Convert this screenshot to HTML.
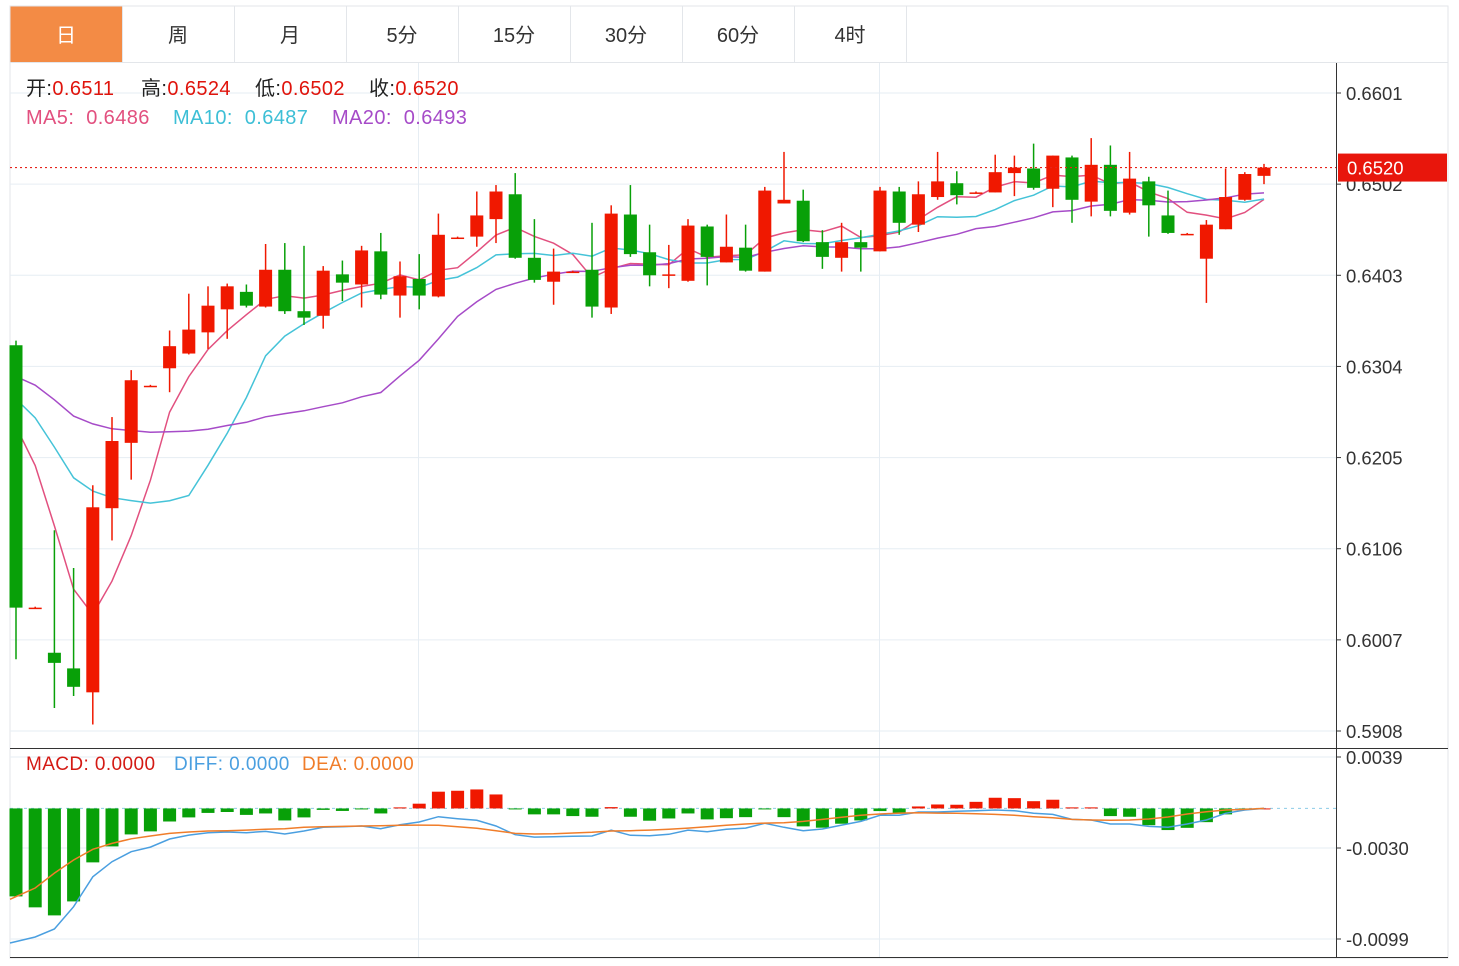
<!DOCTYPE html>
<html><head><meta charset="utf-8"><style>
body{margin:0;background:#fff;font-family:"Liberation Sans","Noto Sans CJK SC",sans-serif;}
svg text{font-family:"Liberation Sans","Noto Sans CJK SC",sans-serif;}
.lg{position:absolute;white-space:nowrap;font-size:20px;letter-spacing:0.4px;}
</style></head><body>
<svg id="chart" width="1459" height="961" viewBox="0 0 1459 961" xmlns="http://www.w3.org/2000/svg">
<rect x="0" y="0" width="1459" height="961" fill="#fff"/>
<g id="tabs"></g>
<rect x="10" y="6" width="1438" height="952" fill="none" stroke="#e3e6ea" stroke-width="1"/>
<line x1="10" y1="62.5" x2="1448" y2="62.5" stroke="#e3e6ea"/>
<g id="grid"></g>
<g id="ma"></g>
<g id="candles"></g>
<g id="macd"></g>
<g id="axis"></g>
</svg>
<script>
const opens=[.6327,.6042,.5993,.5976,.5950,.6150,.6221,.6283,.6302,.6318,.6341,.6366,.6385,.6369,.6409,.6364,.6359,.6404,.6393,.6429,.6381,.6399,.6380,.6444,.6445,.6464,.6491,.6422,.6396,.6407,.6409,.6368,.6469,.6428,.6404,.6397,.6456,.6417,.6433,.6407,.6481,.6484,.6439,.6422,.6439,.6429,.6494,.6458,.6488,.6503,.6493,.6493,.6514,.6519,.6497,.6531,.6483,.6523,.6471,.6505,.6468,.6448,.6421,.6453,.6485,.6511];
const closes=[.6042,.6042,.5982,.5956,.6151,.6223,.6289,.6283,.6326,.6344,.6370,.6391,.6370,.6409,.6364,.6357,.6408,.6395,.6430,.6382,.6402,.6381,.6447,.6444,.6468,.6494,.6422,.6398,.6407,.6407,.6369,.6470,.6426,.6403,.6404,.6457,.6423,.6434,.6408,.6495,.6485,.6440,.6423,.6439,.6433,.6495,.6460,.6491,.6505,.6490,.6493,.6515,.6520,.6498,.6533,.6485,.6523,.6473,.6508,.6479,.6449,.6448,.6458,.6488,.6513,.6520];
const highs=[.6332,.6043,.6126,.6085,.6175,.6249,.6300,.6284,.6343,.6383,.6391,.6394,.6393,.6437,.6438,.6435,.6413,.6419,.6435,.6449,.6418,.6426,.6470,.6445,.6494,.6501,.6514,.6464,.6432,.6408,.6460,.6479,.6501,.6458,.6436,.6464,.6458,.6469,.6458,.6499,.6537,.6496,.6452,.6460,.6452,.6499,.6499,.6505,.6537,.6516,.6494,.6534,.6533,.6546,.6533,.6533,.6552,.6544,.6537,.6510,.6495,.6449,.6463,.6519,.6515,.6524];
const lows=[.5986,.6041,.5933,.5946,.5915,.6115,.6181,.6282,.6276,.6317,.6323,.6334,.6368,.6368,.6361,.6349,.6345,.6375,.6368,.6377,.6357,.6366,.6379,.6443,.6434,.6438,.6421,.6395,.6371,.6406,.6357,.6361,.6423,.6391,.6389,.6396,.6392,.6417,.6407,.6407,.6481,.6439,.6410,.6407,.6407,.6429,.6447,.6450,.6485,.6480,.6492,.6493,.6489,.6496,.6477,.6460,.6467,.6467,.6469,.6445,.6448,.6447,.6373,.6453,.6484,.6502];
const priorCloses=[.6290,.6300,.6310,.6320,.6330,.6325,.6320,.6315,.6330,.6330,.6310,.6300,.6290,.6295,.6295,.6320,.6310,.6300,.6288];
const diffVals=[-.0102,-.00975,-.00914,-.00745,-.00518,-.00404,-.00328,-.00293,-.00232,-.00202,-.00184,-.00179,-.00184,-.00174,-.00194,-.00171,-.00143,-.00139,-.00133,-.00154,-.00124,-.00103,-.00063,-.00078,-.0009,-.00133,-.00199,-.00217,-.00215,-.00211,-.00209,-.00164,-.00204,-.00207,-.00196,-.00164,-.00177,-.00158,-.00149,-.00113,-.00143,-.00169,-.00156,-.00126,-.00098,-.00052,-.00052,-.00027,-.00027,-.00022,-.00017,-.00012,-.00017,-.00037,-.00045,-.00083,-.00088,-.00118,-.00118,-.00136,-.00143,-.00118,-.00088,-.00037,-.00012,0];
const deaVals=[-.00689,-.00603,-.0049,-.00391,-.0031,-.00265,-.0023,-.00209,-.00189,-.00179,-.00171,-.00169,-.00164,-.00158,-.00154,-.00143,-.00139,-.00136,-.00133,-.00131,-.00128,-.00126,-.00128,-.00139,-.00151,-.00169,-.00189,-.00194,-.00192,-.00186,-.00181,-.00171,-.00169,-.00164,-.00158,-.00149,-.00139,-.00128,-.00118,-.00111,-.00108,-.00098,-.00083,-.00067,-.00052,-.00042,-.00035,-.00033,-.00035,-.00037,-.0004,-.00045,-.00052,-.00063,-.0007,-.00083,-.00088,-.0009,-.00088,-.0008,-.00065,-.00042,-.00025,-.00012,-.00007,0];
const macdVals=[-.00667,-.0075,-.00811,-.00705,-.00409,-.00288,-.00197,-.00174,-.00099,-.00068,-.00034,-.00027,-.00049,-.00038,-.00091,-.00068,-.00011,-.00019,-.00004,-.00038,.00008,.00036,.00127,.00134,.00144,.00106,-.00004,-.00045,-.00045,-.00058,-.00063,.0001,-.00063,-.00093,-.00076,-.00038,-.00083,-.00074,-.00066,-.00002,-.00066,-.00136,-.00146,-.00116,-.00091,-.0002,-.0004,.00015,.0003,.00028,.0005,.00081,.00078,.00055,.00066,.00008,.00008,-.00058,-.00063,-.00127,-.00164,-.00147,-.00104,-.00045,-.00011,0];
const priceTicks=["0.6601","0.6502","0.6403","0.6304","0.6205","0.6106","0.6007","0.5908"];
const macdTicks=["0.0039","-0.0030","-0.0099"];
const tabLabels=["日","周","月","5分","15分","30分","60分","4时"];

const NS="http://www.w3.org/2000/svg";
function mk(tag,attrs,parent){const e=document.createElementNS(NS,tag);for(const k in attrs)e.setAttribute(k,attrs[k]);parent.appendChild(e);return e;}
const xC=i=>16+19.2*i;
const yP=p=>93+(0.6601-p)*9206.4;
const yM=v=>757+(0.0039-v)*13188.4;
const RED="#f01800",GREEN="#08a008";

const tabs=document.getElementById('tabs');
tabLabels.forEach((t,i)=>{
  const x=10+112*i;
  const r=mk('rect',{x:x,y:6,width:112,height:56,fill:i===0?'#f38b45':'#fff'},tabs);
  
  
  const tx=mk('text',{x:x+56,y:42,'text-anchor':'middle','font-size':20,fill:i===0?'#fff':'#333'},tabs);
  tx.textContent=t;
  
  
});
tabLabels.forEach((t,i)=>{
  const x=10+112*(i+1)+0.5;
  const l=mk('line',{x1:x,y1:6,x2:x,y2:62,stroke:'#e3e6ea'},tabs);
  
  
});

const grid=document.getElementById('grid');
priceTicks.forEach(t=>{const y=yP(parseFloat(t));const l=mk('line',{x1:10,y1:y,x2:1336,y2:y,stroke:'#e6edf3'},grid);});
macdTicks.forEach(t=>{const y=yM(parseFloat(t));const l=mk('line',{x1:10,y1:y,x2:1336,y2:y,stroke:'#e6edf3'},grid);});
[418.5,879.5].forEach(x=>{const l=mk('line',{x1:x,y1:63,x2:x,y2:958,stroke:'#e6edf3'},grid);});
{const l=mk('line',{x1:10,y1:748.5,x2:1448,y2:748.5,stroke:'#333'},grid);}
{const l=mk('line',{x1:1336.5,y1:63,x2:1336.5,y2:958,stroke:'#333'},grid);}
{const l=mk('line',{x1:10,y1:957.5,x2:1448,y2:957.5,stroke:'#333'},grid);}

const all=priorCloses.concat(closes);
function ma(n){return closes.map((c,i)=>{let s=0;const j=i+priorCloses.length;for(let k=j-n+1;k<=j;k++)s+=all[k];return s/n;});}
const maG=document.getElementById('ma');
[[5,'#e2507f','ma5-line'],[10,'#45c3d8','ma10-line'],[20,'#a64bc8','ma20-line']].forEach(([n,col,name])=>{
  const v=ma(n);
  const pts=v.map((p,i)=>(i===0?10:xC(i))+','+yP(p).toFixed(1)).join(' ');
  const pl=mk('polyline',{points:pts,fill:'none',stroke:col,'stroke-width':1.5},maG);
  
  
});

const cg=document.getElementById('candles');
closes.forEach((c,i)=>{
  const o=opens[i];const up=c>=o;const col=up?RED:GREEN;const x=xC(i);
  const g=mk('g',{},cg);
  
  
  mk('line',{x1:x,y1:yP(highs[i]),x2:x,y2:yP(lows[i]),stroke:col,'stroke-width':1.5},g);
  const top=yP(Math.max(o,c)),bot=yP(Math.min(o,c));
  mk('rect',{x:x-6.5,y:top,width:13,height:Math.max(bot-top,1.5),fill:col},g);
});
{const y=yP(closes[closes.length-1]);
 const l=mk('line',{x1:10,y1:y,x2:1336,y2:y,stroke:'#e8211a','stroke-dasharray':'2,3','stroke-width':1.2},cg);
 }

const mg=document.getElementById('macd');
{const l=mk('line',{x1:10,y1:yM(0),x2:1336,y2:yM(0),stroke:'#8ccbe8','stroke-dasharray':'3,4'},mg);}
macdVals.forEach((v,i)=>{
  const y0=yM(0),y1=yM(v);
  const r=mk('rect',{x:xC(i)-6.5,y:Math.min(y0,y1),width:13,height:Math.max(Math.abs(y1-y0),1),fill:v>=0?RED:GREEN},mg);
  
  
});
[[diffVals,'#4a9fe0','diff-line'],[deaVals,'#f07d2a','dea-line']].forEach(([arr,col,name])=>{
  const pts=arr.map((v,i)=>(i===0?10:xC(i))+','+yM(v).toFixed(1)).join(' ');
  const pl=mk('polyline',{points:pts,fill:'none',stroke:col,'stroke-width':1.5},mg);
  
  
});

const ax=document.getElementById('axis');
priceTicks.forEach(t=>{const y=yP(parseFloat(t));
  mk('line',{x1:1336,y1:y,x2:1341,y2:y,stroke:'#333'},ax);
  const tx=mk('text',{x:1346,y:y+7,'font-size':18.5,fill:'#333'},ax);tx.textContent=t;
  });
macdTicks.forEach(t=>{const y=yM(parseFloat(t));
  mk('line',{x1:1336,y1:y,x2:1341,y2:y,stroke:'#333'},ax);
  const tx=mk('text',{x:1346,y:y+7,'font-size':18.5,fill:'#333'},ax);tx.textContent=t;
  });
{const y=yP(closes[closes.length-1]);
 const r=mk('rect',{x:1338,y:y-14,width:109,height:28,fill:'#e8160c'},ax);
 const tx=mk('text',{x:1347,y:y+7,'font-size':18.5,fill:'#fff'},ax);tx.textContent=closes[closes.length-1].toFixed(4);
 }
</script>
<div style="position:absolute;left:0;top:0;">
<div class="lg" style="left:26px;top:72px;color:#222;">开:<span style="color:#e0140c">0.6511</span></div>
<div class="lg" style="left:141px;top:72px;color:#222;">高:<span style="color:#e0140c">0.6524</span></div>
<div class="lg" style="left:255px;top:72px;color:#222;">低:<span style="color:#e0140c">0.6502</span></div>
<div class="lg" style="left:369px;top:72px;color:#222;">收:<span style="color:#e0140c">0.6520</span></div>
<div class="lg" style="left:26px;top:107px;color:#e2507f;">MA5:&nbsp;&nbsp;0.6486</div>
<div class="lg" style="left:173px;top:107px;color:#3dbfd6;">MA10:&nbsp;&nbsp;0.6487</div>
<div class="lg" style="left:332px;top:107px;color:#a64bc8;">MA20:&nbsp;&nbsp;0.6493</div>
<div class="lg" style="left:26px;top:754px;font-size:19px;color:#d41a14;">MACD:&nbsp;0.0000</div>
<div class="lg" style="left:174px;top:754px;font-size:19px;color:#4a9fe0;">DIFF:&nbsp;0.0000</div>
<div class="lg" style="left:302px;top:754px;font-size:19px;color:#f07d2a;">DEA:&nbsp;0.0000</div>
</div>
</body></html>
